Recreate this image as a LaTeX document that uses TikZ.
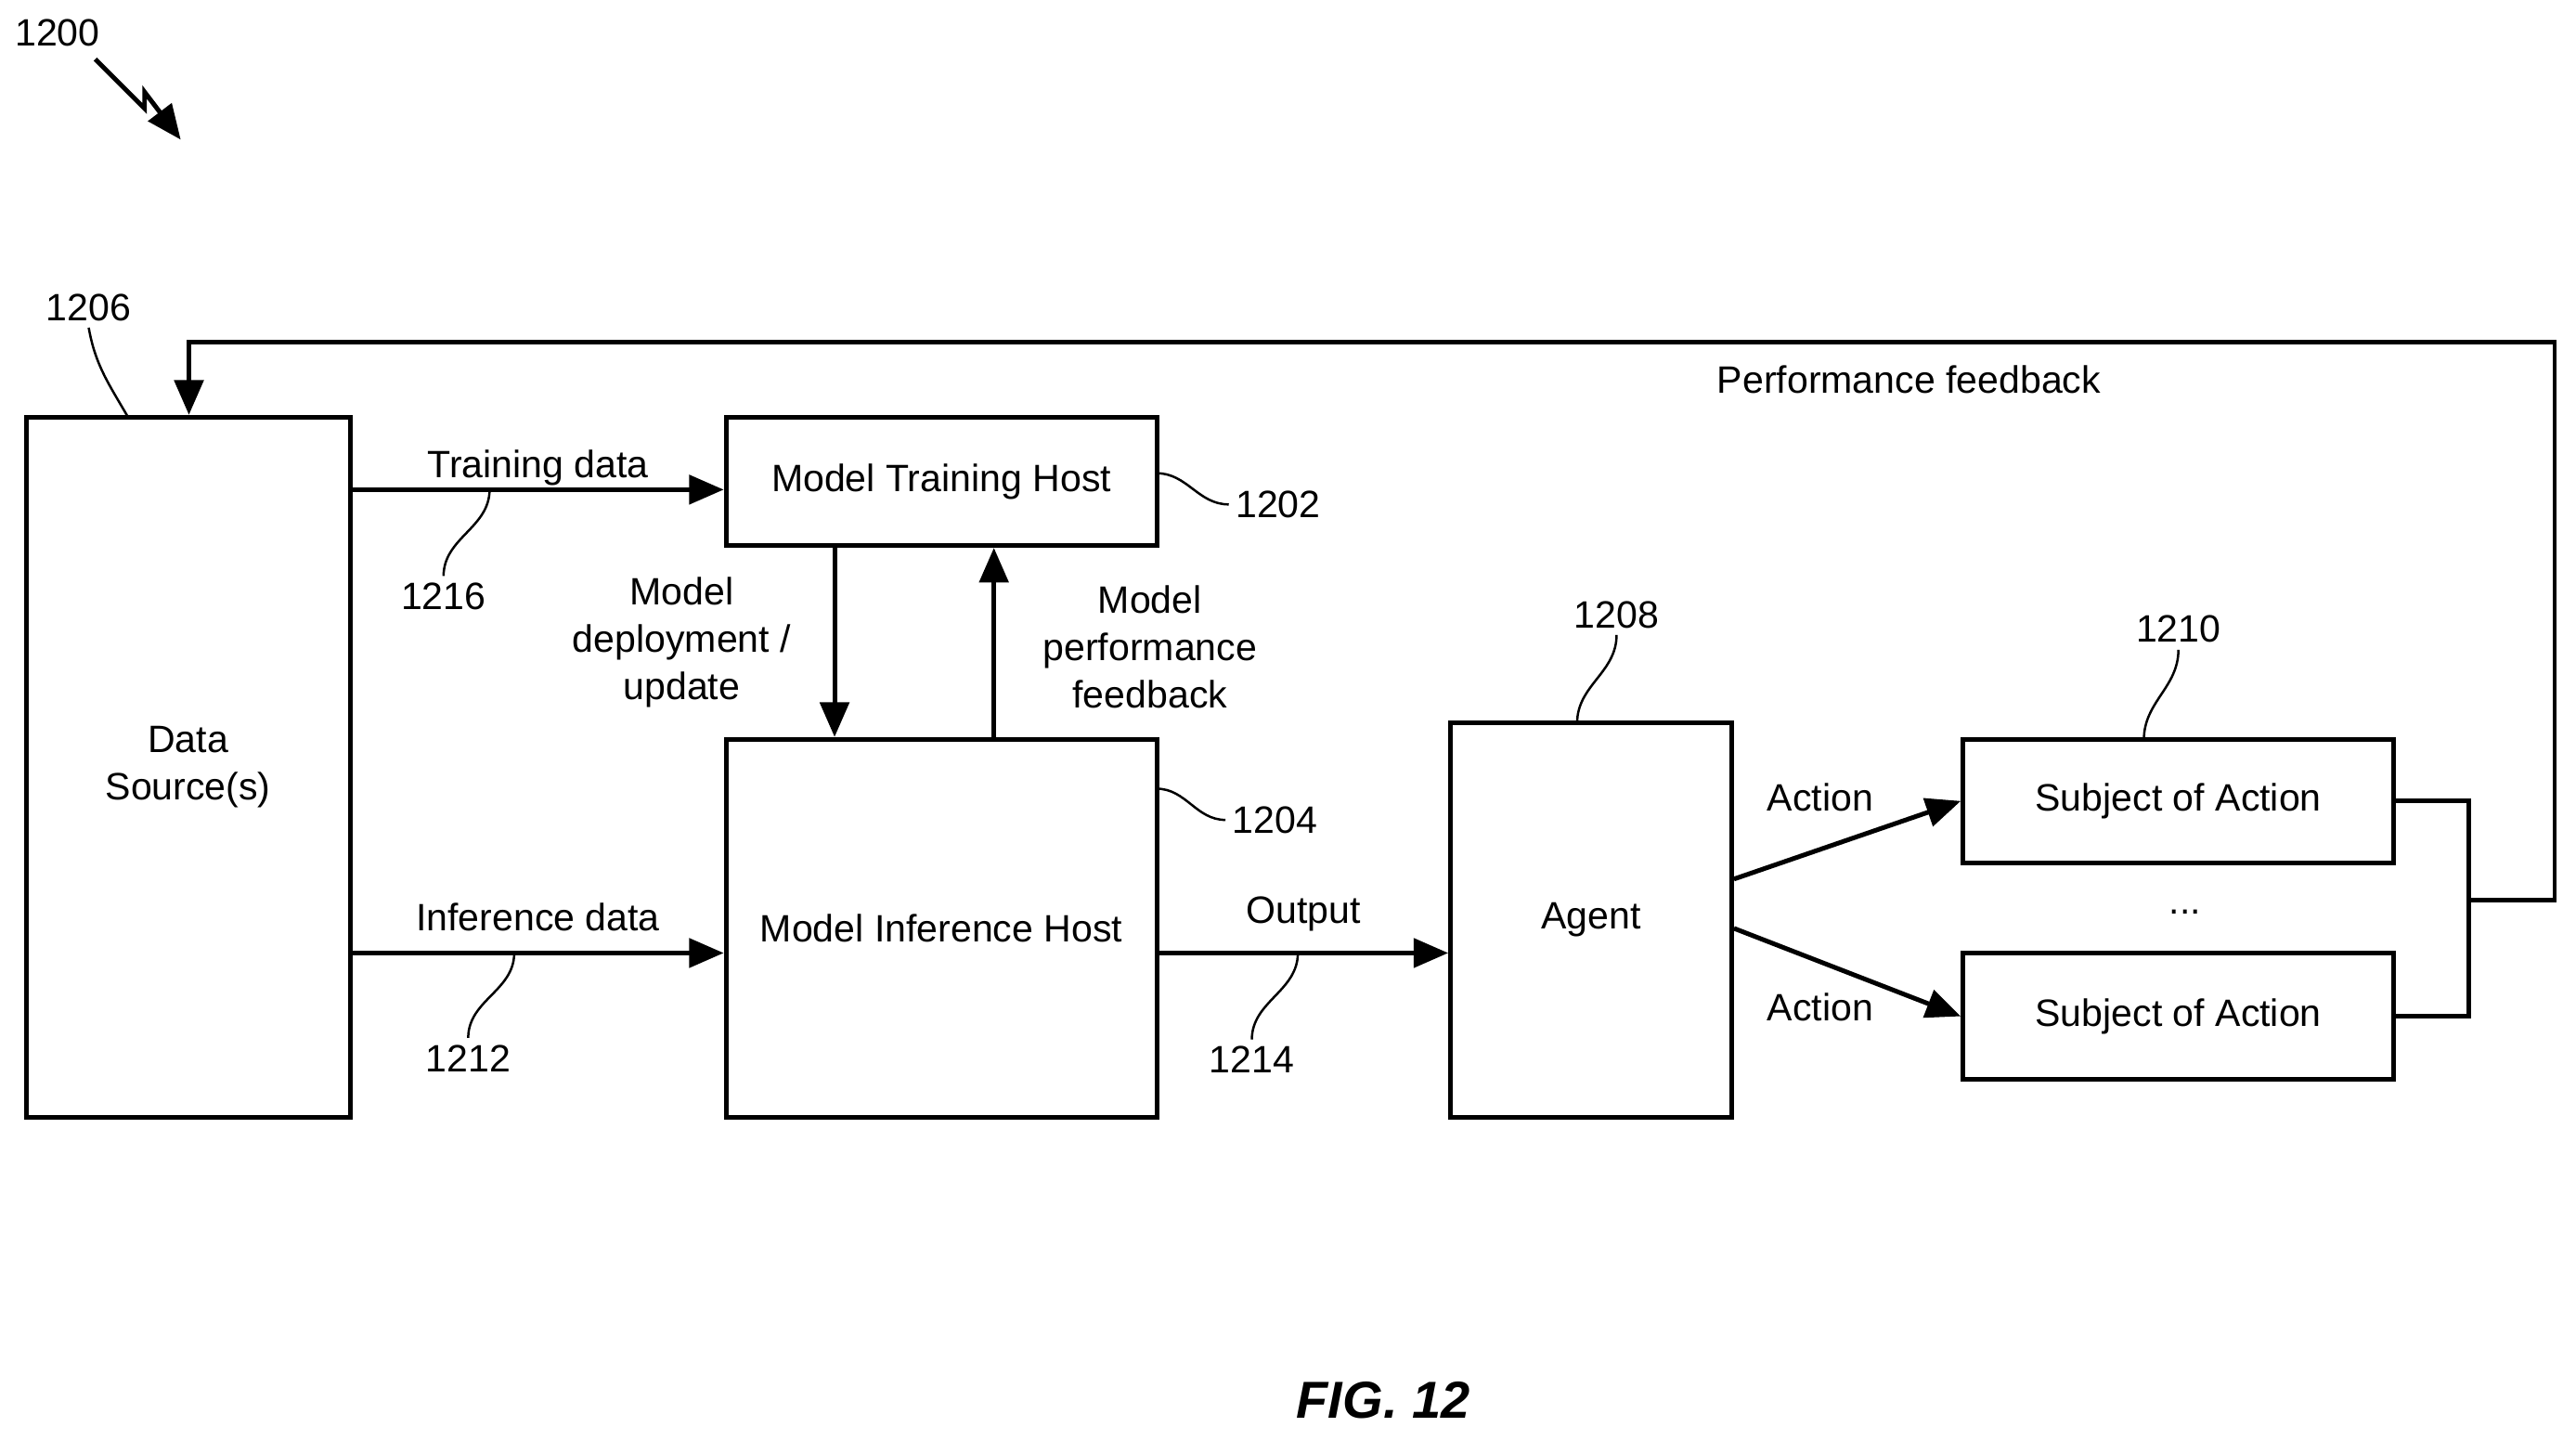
\documentclass[tikz,border=0pt]{standalone}
\usepackage{fontspec}
\setmainfont{Liberation Sans}
\usetikzlibrary{positioning, arrows.meta, calc}
\begin{document}
\begin{tikzpicture}[
        x=0.01cm, y=-0.01cm,
        >={Triangle[length=6pt,width=5pt]},
        font=\fontsize{6.6}{8.2}\selectfont,
        block/.style={draw, thick, inner sep=0pt},
        flow/.style={thick, ->},
        leader/.style={thin},
        ref/.style={inner sep=1pt},
    ]
    \useasboundingbox (0,0) rectangle (1568,876);

    % Blocks
    \node[block, minimum width=1.97cm, minimum height=4.26cm] (src) at (114.5,467) {};
    \node[align=center] at (src.center) {Data\\Source(s)};
    \node[block, minimum width=2.62cm, minimum height=0.78cm] (train) at (573,293) {Model Training Host};
    \node[block, minimum width=2.62cm, minimum height=2.30cm] (infer) at (573,565) {Model Inference Host};
    \node[block, minimum width=1.71cm, minimum height=2.40cm] (agent) at (968.5,560) {Agent};
    \node[block, minimum width=2.62cm, minimum height=0.75cm] (subj1) at (1326,487.5) {Subject of Action};
    \node[block, minimum width=2.62cm, minimum height=0.77cm] (subj2) at (1326,618.5) {Subject of Action};
    \node at (1330,555) {...};

    % Data flows
    \draw[flow] (src.east |- 0,298) -- node[above, yshift=-3pt] {Training data} (train.west |- 0,298);
    \draw[flow] (src.east |- 0,580) -- node[above] {Inference data} (infer.west |- 0,580);
    \draw[flow] (infer.east |- 0,580) -- node[above] {Output} (agent.west |- 0,580);
    \draw[flow] (train.south -| 508,0) -- (infer.north -| 508,0);
    \draw[flow] (infer.north -| 605,0) -- (train.south -| 605,0);
    \node[align=center] at (415,391) {Model\\deployment /\\update};
    \node[align=center] at (700,394) {Model\\performance\\feedback};
    \draw[flow] (agent.east |- 0,535) -- (subj1.west);
    \draw[flow] (agent.east |- 0,565) -- (subj2.west);
    \node at (1108,485) {Action};
    \node at (1108,613) {Action};

    % Feedback loop
    \coordinate (fbA) at (1503,548);
    \draw[thick] (subj1.east) -| (fbA);
    \draw[thick] (subj2.east) -| (fbA);
    \draw[flow] (fbA) -- (1555,548) -- (1555,208) -- (115,208) -- (src.north -| 115,0);
    \node at (1162,231) {Performance feedback};

    % Reference numerals
    \node[ref] (r1200) at (35,20) {1200};
    \node[ref] (r1206) at (54,187) {1206};
    \node[ref] (r1216) at (270,363) {1216};
    \node[ref] (r1212) at (285,644) {1212};
    \node[ref] (r1214) at (762,645) {1214};
    \node[ref] (r1202) at (778,307) {1202};
    \node[ref] (r1204) at (776,499) {1204};
    \node[ref] (r1208) at (984,374) {1208};
    \node[ref] (r1210) at (1326,383) {1210};
    \draw[leader] (r1206.south) to[out=-80,in=120] (78,254);
    \draw[leader] (r1216.north) to[out=90,in=-90] (298,298);
    \draw[leader] (r1212.north) to[out=90,in=-90] (313,580);
    \draw[leader] (r1214.north) to[out=90,in=-90] (790,580);
    \draw[leader] (r1202.west) to[out=180,in=0] (704,288);
    \draw[leader] (r1204.west) to[out=180,in=0] (704,480);
    \draw[leader] (r1208.south) to[out=-90,in=90] (960,440);
    \draw[leader] (r1210.south) to[out=-90,in=90] (1305,450);
    \draw[thick, ->] (58,36) -- (88,66) -- (88,56) -- (110,85);

    \node[font=\fontsize{9}{10}\selectfont\bfseries\itshape] (fig) at (842,852) {FIG. 12};
\end{tikzpicture}
\end{document}
